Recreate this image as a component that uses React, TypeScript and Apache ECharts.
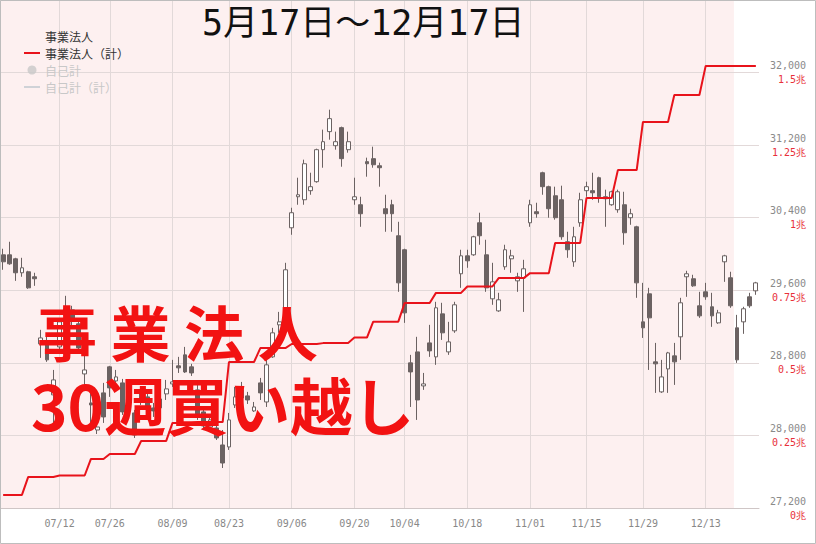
import React, { useEffect, useRef } from "react";
import * as echarts from "echarts";

// trading days shown (2021)
const dates = [
  "06/29", "06/30", "07/01", "07/02",
  "07/05", "07/06", "07/07", "07/08", "07/09",
  "07/12", "07/13", "07/14", "07/15", "07/16",
  "07/19", "07/20", "07/21",
  "07/26", "07/27", "07/28", "07/29", "07/30",
  "08/02", "08/03", "08/04", "08/05", "08/06",
  "08/10", "08/11", "08/12", "08/13",
  "08/16", "08/17", "08/18", "08/19", "08/20",
  "08/23", "08/24", "08/25", "08/26", "08/27",
  "08/30", "08/31", "09/01", "09/02", "09/03",
  "09/06", "09/07", "09/08", "09/09", "09/10",
  "09/13", "09/14", "09/15", "09/16", "09/17",
  "09/21", "09/22", "09/24",
  "09/27", "09/28", "09/29", "09/30", "10/01",
  "10/04", "10/05", "10/06", "10/07", "10/08",
  "10/11", "10/12", "10/13", "10/14", "10/15",
  "10/18", "10/19", "10/20", "10/21", "10/22",
  "10/25", "10/26", "10/27", "10/28", "10/29",
  "11/01", "11/02", "11/04", "11/05",
  "11/08", "11/09", "11/10", "11/11", "11/12",
  "11/15", "11/16", "11/17", "11/18", "11/19",
  "11/22", "11/24", "11/25", "11/26",
  "11/29", "11/30", "12/01", "12/02", "12/03",
  "12/06", "12/07", "12/08", "12/09", "12/10",
  "12/13", "12/14", "12/15", "12/16", "12/17",
  "12/20", "12/21", "12/22", "12/23",
];

// [open, close, low, high]
const ohlc = [
  [29991, 29914, 29826, 30058], [29991, 29892, 29881, 30135], [29947, 29793, 29704, 29958], [29793, 29848, 29749, 29958],
  [29804, 29627, 29616, 29815], [29749, 29727, 29649, 29793], [29009, 29075, 28855, 29164], [29020, 28833, 28811, 29087], [28447, 28612, 28093, 28722],
  [28976, 29252, 28932, 29285], [29329, 29396, 29296, 29539], [29384, 29285, 29197, 29429], [29230, 28965, 28932, 29263], [28678, 28722, 28535, 28921],
  [28358, 28336, 28138, 28480], [28060, 28093, 28016, 28226], [28469, 28204, 28138, 28579],
  [28756, 28524, 28425, 28767], [28601, 28645, 28579, 28722], [28579, 28259, 28226, 28623], [28458, 28491, 28391, 28557], [28248, 28005, 27972, 28281],
  [28391, 28469, 28336, 28502], [28425, 28325, 28292, 28458], [28303, 28270, 28204, 28358], [28303, 28402, 28281, 28436], [28458, 28513, 28391, 28612],
  [28568, 28590, 28535, 28833], [28767, 28745, 28689, 28866], [28888, 28700, 28689, 28976], [28756, 28689, 28656, 28789],
  [28502, 28204, 28171, 28557], [28259, 28104, 28060, 28303], [28093, 28171, 28082, 28226], [28082, 27972, 27950, 28116], [27895, 27696, 27641, 28060],
  [27873, 28171, 27840, 28248], [28336, 28425, 28303, 28535], [28502, 28413, 28369, 28590], [28436, 28391, 28347, 28480], [28270, 28314, 28259, 28369],
  [28579, 28469, 28391, 28634], [28369, 28778, 28314, 28866], [28866, 29131, 28855, 29186], [29219, 29252, 29131, 29362], [29307, 29826, 29296, 29903],
  [30289, 30455, 30212, 30510], [30631, 30653, 30543, 30841], [30598, 30995, 30543, 31040], [30698, 30742, 30653, 30896], [30797, 31150, 30786, 31161],
  [31150, 31238, 30951, 31371], [31349, 31492, 31260, 31591], [31194, 31238, 31150, 31349], [31393, 31051, 30962, 31404], [31150, 31238, 31117, 31349],
  [30598, 30631, 30543, 30841], [30543, 30444, 30300, 30631], [31018, 30995, 30852, 31062],
  [31051, 30984, 30951, 31183], [30973, 30951, 30742, 31007], [30499, 30444, 30245, 30653], [30543, 30444, 30245, 30598], [30201, 29682, 29583, 30355],
  [30047, 29351, 29241, 30058], [28800, 28700, 28314, 28888], [28921, 28391, 28171, 29087], [28546, 28568, 28502, 28689], [29020, 28932, 28866, 29219],
  [28866, 29407, 28778, 29473], [29340, 29131, 29053, 29462], [28921, 29031, 28888, 29252], [29153, 29440, 29131, 29473], [29782, 29980, 29627, 30047],
  [29980, 29925, 29848, 30047], [29991, 30190, 29980, 30201], [30344, 30201, 30102, 30455], [29991, 29627, 29583, 30157], [29506, 29693, 29440, 29903],
  [29373, 29495, 29362, 29572], [29859, 30047, 29826, 30102], [29947, 29980, 29793, 30047], [29704, 29749, 29583, 29793], [29738, 29837, 29362, 29936],
  [30344, 30543, 30300, 30598], [30466, 30444, 30400, 30565], [30896, 30742, 30653, 30907], [30742, 30499, 30400, 30753],
  [30642, 30400, 30378, 30742], [30598, 30190, 30157, 30753], [30135, 30047, 29958, 30245], [29914, 30190, 29859, 30300], [30344, 30598, 30300, 30675],
  [30698, 30742, 30631, 30797], [30698, 30675, 30598, 30896], [30841, 30631, 30565, 30852], [30631, 30609, 30300, 30709], [30543, 30686, 30532, 30698],
  [30488, 30686, 30455, 30709], [30543, 30234, 30102, 30686], [30400, 30444, 30322, 30499], [30300, 29682, 29517, 30311],
  [29252, 29186, 29075, 29682], [29561, 29296, 28722, 29627], [28811, 28789, 28469, 29020], [28480, 28645, 28469, 28833], [28733, 28910, 28469, 28921],
  [28877, 28811, 28557, 29020], [29087, 29462, 28833, 29517], [29749, 29782, 29528, 29815], [29727, 29649, 29638, 29771], [29429, 29318, 29296, 29583],
  [29583, 29528, 29495, 29682], [29418, 29318, 29197, 29572], [29241, 29351, 29230, 29384], [29914, 29980, 29693, 29991], [29738, 29429, 29407, 29804],
  [29186, 28833, 28800, 29329], [29252, 29396, 29120, 29418], [29528, 29429, 29407, 29572], [29594, 29682, 29550, 29693],
];

// weekly cumulative net purchases by business corporations (兆円), week starting Monday
const weekStarts = [
  "06/28", "07/05", "07/12", "07/19", "07/26", "08/02", "08/09", "08/16", "08/23",
  "08/30", "09/06", "09/13", "09/20", "09/27", "10/04", "10/11", "10/18", "10/25",
  "11/01", "11/08", "11/15", "11/22", "11/29", "12/06", "12/13",
];
const weeklyCum = [
  0.045, 0.107, 0.112, 0.169, 0.186, 0.231, 0.293, 0.296, 0.503,
  0.551, 0.565, 0.568, 0.587, 0.642, 0.706, 0.741, 0.763, 0.792,
  0.809, 0.913, 1.068, 1.164, 1.33, 1.423, 1.523,
];

const tickWeeks = ["07/12", "07/26", "08/09", "08/23", "09/06", "09/20", "10/04", "10/18", "11/01", "11/15", "11/29", "12/13"];
const periodEnd = "12/17";
const titleText = "5月17日～12月17日";
const bigLine1 = "事 業 法 人";
const bigLine2 = "30週買い越し";

export default function App() {
  const ref = useRef<HTMLDivElement>(null);
  useEffect(() => {
    document.body.style.margin = "0";
    const chart = echarts.init(ref.current!, null, { renderer: "svg" });

    const cumDaily = dates.map((d) => {
      let v = weeklyCum[0];
      weekStarts.forEach((w, i) => {
        if (w <= d) v = weeklyCum[i];
      });
      return v;
    });
    const tickMap: Record<string, string> = {};
    tickWeeks.forEach((w) => {
      const d = dates.find((x) => x >= w);
      if (d) tickMap[d] = w;
    });
    const isTick = (idx: number) => !!tickMap[dates[idx]];
    const mono = "'DejaVu Sans Mono', monospace";
    const grid = "#e2d9d9";
    const candleDark = "#6b6262";
    const jp = "'Noto Sans CJK JP', sans-serif";

    chart.setOption({
      animation: false,
      textStyle: { fontFamily: jp },
      title: {
        text: titleText,
        left: 197,
        top: 0,
        textStyle: { fontSize: 35, fontWeight: "normal", color: "#111", fontFamily: "'DejaVu Sans Mono', 'Noto Sans CJK JP', monospace" },
      },
      legend: {
        orient: "vertical",
        left: 18,
        top: 24,
        itemWidth: 16,
        itemHeight: 9,
        itemGap: 3,
        inactiveColor: "#c8c8c8",
        textStyle: { fontSize: 12, lineHeight: 14, color: "#333" },
        data: [
          { name: "事業法人", itemStyle: { opacity: 0 } },
          { name: "事業法人（計）", itemStyle: { opacity: 0 } },
          "自己計",
          { name: "自己計（計）", itemStyle: { opacity: 0 } },
        ],
        selected: { "自己計": false, "自己計（計）": false },
      },
      grid: { left: 0, right: 57, top: 0, bottom: 36 },
      xAxis: {
        type: "category",
        data: dates,
        boundaryGap: true,
        axisLine: { lineStyle: { color: "#cfc6c6" } },
        axisTick: { interval: isTick, alignWithLabel: true, length: 8, lineStyle: { color: "#cfc6c6" } },
        axisLabel: {
          interval: isTick,
          formatter: (v: string) => tickMap[v] || "",
          color: "#888",
          fontSize: 10,
          fontFamily: mono,
          margin: 10,
        },
        splitLine: { show: true, interval: isTick, alignWithLabel: true, lineStyle: { color: grid } },
      },
      yAxis: [
        {
          type: "value",
          position: "right",
          min: 27200,
          max: 32800,
          interval: 800,
          axisLine: { show: false },
          axisTick: { show: false },
          splitLine: { lineStyle: { color: grid } },
          axisLabel: {
            showMaxLabel: false,
            formatter: (v: number) => v.toLocaleString("en-US"),
            color: "#8a8a8a",
            fontSize: 10,
            fontFamily: mono,
            align: "right",
            margin: 47,
            verticalAlign: "bottom",
            padding: [0, 0, 2, 0],
          },
        },
        {
          type: "value",
          position: "right",
          min: 0,
          max: 1.75,
          interval: 0.25,
          axisLine: { show: false },
          axisTick: { show: false },
          splitLine: { show: false },
          axisLabel: {
            showMaxLabel: false,
            formatter: (v: number) => `${v}兆`,
            color: "#e8303a",
            fontSize: 10,
            fontFamily: mono,
            align: "right",
            margin: 47,
            verticalAlign: "top",
            padding: [2, 0, 0, 0],
          },
        },
      ],
      series: [
        {
          name: "事業法人",
          type: "candlestick",
          data: ohlc,
          barWidth: "70%",
          itemStyle: {
            color: "#ffffff",
            color0: candleDark,
            borderColor: candleDark,
            borderColor0: candleDark,
            borderWidth: 1,
          },
        },
        {
          name: "事業法人（計）",
          type: "line",
          yAxisIndex: 1,
          data: cumDaily,
          symbol: "none",
          showSymbol: false,
          lineStyle: { color: "#e8131b", width: 2 },
          itemStyle: { color: "#e8131b" },
          z: 3,
        },
        { name: "自己計", type: "scatter", data: [], itemStyle: { color: "#999" } },
        { name: "自己計（計）", type: "line", data: [], symbol: "none", lineStyle: { color: "#999" }, itemStyle: { color: "#999" } },
      ],
    });

    const x0 = chart.convertToPixel({ xAxisIndex: 0 }, dates[0]) as number;
    const x1 = chart.convertToPixel({ xAxisIndex: 0 }, dates[1]) as number;
    const half = (x1 - x0) / 2;
    const xe = (chart.convertToPixel({ xAxisIndex: 0 }, periodEnd) as number) + half;
    const yt = chart.convertToPixel({ yAxisIndex: 0 }, 32800) as number;
    const yb = chart.convertToPixel({ yAxisIndex: 0 }, 27200) as number;

    const red = "#f21212";

    chart.setOption({
      graphic: [
        {
          type: "rect",
          z: -10,
          silent: true,
          shape: { x: x0 - half, y: yt, width: xe - (x0 - half), height: yb - yt },
          style: { fill: "#fdf0f0" },
        },
        {
          type: "text",
          z: 100,
          x: 31,
          y: 293,
          silent: true,
          style: {
            text: `{a|${bigLine1}}\n{b|${bigLine2}}`,
            fontWeight: "bold",
            fontFamily: jp,
            fontSize: 60,
            fill: red,
            align: "left",
            verticalAlign: "top",
            rich: {
              a: { fontSize: 60, lineHeight: 74, fontWeight: "bold", fontFamily: jp, fill: red, color: red, padding: [0, 0, 0, 6] },
              b: { fontSize: 62, lineHeight: 74, fontWeight: "bold", fontFamily: jp, fill: red, color: red },
            },
          },
        },
        {
          type: "rect",
          z: 200,
          silent: true,
          shape: { x: 0.5, y: 0.5, width: 815, height: 543 },
          style: { fill: "none", stroke: "#bdbdbd", lineWidth: 1 },
        },
      ],
    });

    return () => chart.dispose();
  }, []);
  return <div ref={ref} style={{ position: "absolute", left: 0, top: 0, width: 816, height: 544 }} />;
}
